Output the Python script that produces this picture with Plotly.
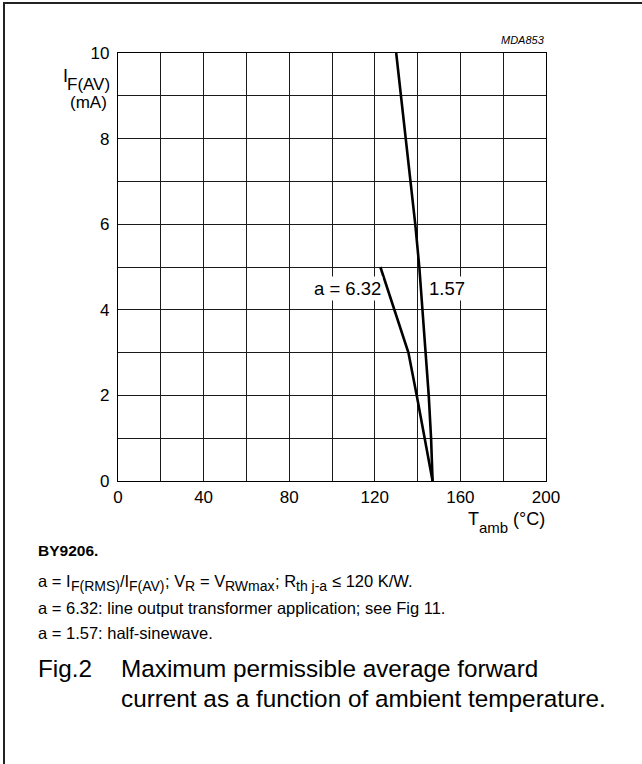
import plotly.graph_objects as go

# ---- data ----
t_157 = [130.0, 132.2, 134.6, 136.9, 138.9, 140.8, 142.3, 143.9, 145.2, 146.3, 147.0]
i_157 = [10, 9, 8, 7, 6, 5, 4, 3, 2, 1, 0]
t_632 = [122.6, 129.3, 135.7, 139.6, 143.3, 147.0]
i_632 = [5, 4, 3, 2, 1, 0]

x_tick_vals = [0, 40, 80, 120, 160, 200]
x_tick_text = ["0", "40", "80", "120", "160", "200"]
x_minor_vals = [20, 60, 100, 140, 180]
y_tick_vals = [0, 2, 4, 6, 8, 10]
y_tick_text = ["0", "2", "4", "6", "8", "10"]
y_minor_vals = [1, 3, 5, 7, 9]

W, H = 642, 764
L, R, T, B = 118, 96, 53, 283
PW, PH = W - L - R, H - T - B

def px(x):
    return (x - L) / PW

def py(y):
    return (H - B - y) / PH

FONT = "Liberation Sans, Arial, sans-serif"
BLACK = "#000000"
GRID = "#1a1a1a"

fig = go.Figure()
fig.add_trace(go.Scatter(x=t_157, y=i_157, mode="lines",
                         line=dict(color=BLACK, width=2.6), showlegend=False))
fig.add_trace(go.Scatter(x=t_632, y=i_632, mode="lines",
                         line=dict(color=BLACK, width=2.6), showlegend=False))

axis_common = dict(showgrid=True, gridcolor=GRID, gridwidth=1,
                   showline=True, linecolor=BLACK, linewidth=1.2, mirror=True,
                   ticks="", zeroline=False,
                   tickfont=dict(family=FONT, size=17, color=BLACK))

fig.update_xaxes(range=[0, 200], tickvals=x_tick_vals, ticktext=x_tick_text,
                 minor=dict(tickvals=x_minor_vals, showgrid=True,
                            gridcolor=GRID, gridwidth=1, ticks=""),
                 **axis_common)
fig.update_yaxes(range=[0, 10], tickvals=y_tick_vals, ticktext=y_tick_text,
                 minor=dict(tickvals=y_minor_vals, showgrid=True,
                            gridcolor=GRID, gridwidth=1, ticks=""),
                 ticklabelstandoff=4, **axis_common)

ann = []
def text(s, x, y, size, anchor="left", bold=False, italic=False, bg=None, ref="paper"):
    d = dict(text=("<b>%s</b>" % s) if bold else s, showarrow=False,
             xanchor=anchor, yanchor="middle",
             font=dict(family=FONT, size=size, color=BLACK,
                       style="italic" if italic else "normal"))
    if ref == "paper":
        d.update(xref="paper", yref="paper", x=px(x), y=py(y))
    else:
        d.update(xref="x", yref="y", x=x, y=y)
    if bg:
        d.update(bgcolor=bg, borderpad=1)
    ann.append(d)

# Arial / Liberation Sans advance widths (per 1000 em) for laying out a
# line with full-control subscripts as consecutive text runs
ADV = {" ": 278, "(": 333, ")": 333, "-": 333, ".": 278, "/": 278, ":": 278,
       ";": 278, "=": 584, "≤": 549, "A": 667, "F": 611, "I": 278, "K": 667,
       "M": 833, "R": 722, "S": 667, "V": 667, "W": 944, "a": 556, "h": 556,
       "j": 222, "m": 833, "t": 278, "x": 500}
for dgt in "0123456789":
    ADV[dgt] = 556

def run_width(s, size):
    return sum(ADV.get(c, 556) for c in s) * size / 1000.0

def runs(parts, x0, y0, body, subsize, subdy):
    x = x0
    for s, is_sub in parts:
        size = subsize if is_sub else body
        lead = len(s) - len(s.lstrip(" "))
        x += run_width(" " * lead, size)
        core = s.strip(" ")
        text(core, x - 2, y0 + (subdy if is_sub else 0), size)
        x += run_width(core, size)
        trail = len(s) - len(s.rstrip(" "))
        x += run_width(" " * trail, size)

# curve labels (data coordinates)
text("a = 6.32", 124, 4.5, 18.5, anchor="right", bg="white", ref="data")
text("1.57", 144.6, 4.5, 18.5, anchor="left", bg="white", ref="data")

text("MDA853", 547, 40, 11, anchor="right", italic=True)
text("I", 61, 76, 18, anchor="left")
text("F(AV)", 112, 84, 17, anchor="right")
text("(mA)", 109, 102, 17, anchor="right")
text("T", 466, 519, 18, anchor="left")
text("amb", 477, 527, 15, anchor="left")
text("(°C)", 547, 519, 18, anchor="right")

BODY = 16.5
SUB = 14
text("BY9206.", 36, 550, 15.5, bold=True)
runs([("a = I", False), ("F(RMS)", True), ("/I", False), ("F(AV)", True),
      ("; V", False), ("R", True), (" = V", False), ("RWmax", True),
      ("; R", False), ("th j-a", True), (" ≤ 120 K/W.", False)],
     38, 581, BODY, SUB, 4.5)
text("a = 6.32: line output transformer application; see Fig 11.", 36, 608, BODY)
text("a = 1.57: half-sinewave.", 36, 633, BODY)
CAP = 24.3
text("Fig.2", 36, 668, CAP)
text("Maximum permissible average forward", 119, 668, CAP)
text("current as a function of ambient temperature.", 119, 698, CAP)

shapes = [
    dict(type="line", xref="paper", yref="paper", x0=px(4), x1=px(4),
         y0=py(H + 5), y1=py(2), line=dict(color="#222", width=2)),
    dict(type="line", xref="paper", yref="paper", x0=px(3), x1=px(W + 5),
         y0=py(3), y1=py(3), line=dict(color="#222", width=2)),
]

fig.update_layout(width=W, height=H, autosize=False,
                  margin=dict(l=L, r=R, t=T, b=B, autoexpand=False),
                  paper_bgcolor="white", plot_bgcolor="white",
                  annotations=ann, shapes=shapes, showlegend=False)

fig.write_html("out.html", config={"displayModeBar": False},
               post_script="document.body.style.margin='0';"
                           "document.body.style.overflow='hidden';")
